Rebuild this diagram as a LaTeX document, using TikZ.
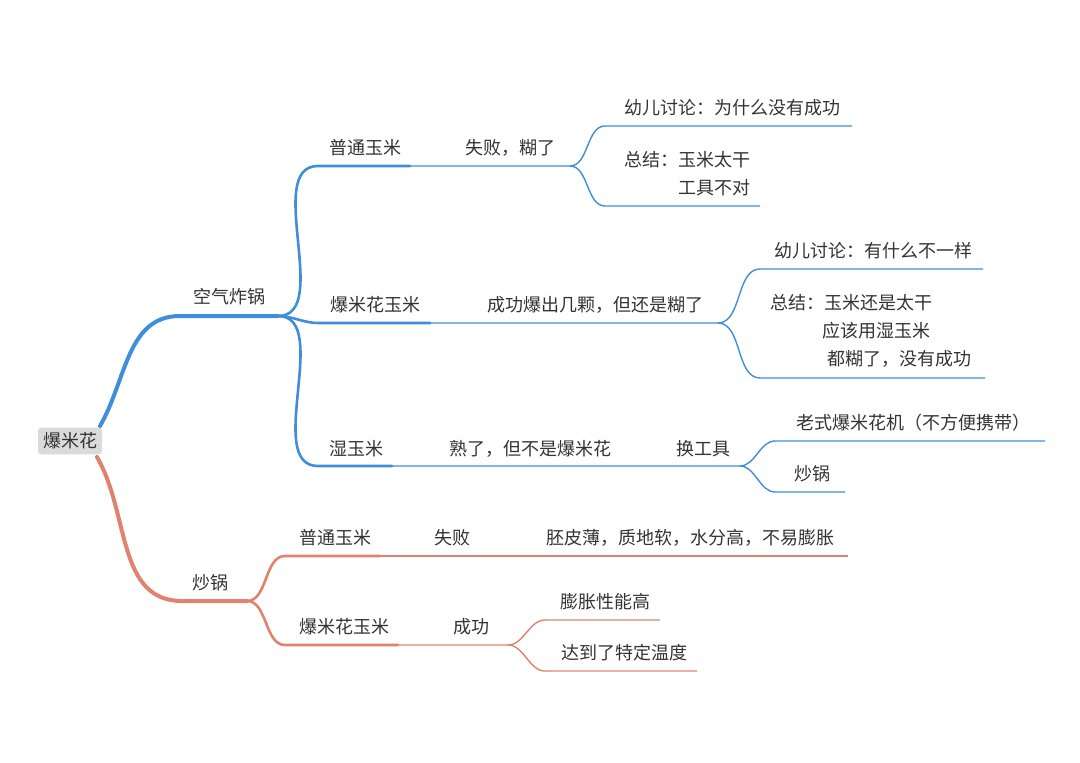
\documentclass[tikz,border=0pt]{standalone}
\usepackage{fontspec}
\setmainfont{Noto Sans CJK SC}
\begin{document}
\begin{tikzpicture}[x=1pt,y=-1pt,
  lbl/.style={font=\fontsize{18}{22}\selectfont, text=black!80, inner sep=0pt},
  bl1/.style={draw=blueA, line width=4pt, line cap=round},
  bl2/.style={draw=blueA, line width=2.6pt, line cap=round},
  bl3/.style={draw=blueA, line width=1.4pt},
  rd1/.style={draw=redA, line width=4pt, line cap=round},
  rd2/.style={draw=redA, line width=2.6pt, line cap=round},
  rd3/.style={draw=redA, line width=1.4pt},
  sc/.style={out=0,in=180,looseness=0.9}]
\definecolor{blueA}{HTML}{3F8EDC}
\definecolor{redA}{HTML}{E0826E}
\useasboundingbox (0,0) rectangle (1080,763);
\node[lbl, fill=black!14, rounded corners=3pt, inner sep=5pt] (root) at (70,441) {爆米花};
% coordinates
\coordinate (rA) at (100,426); \coordinate (rB) at (97,457);
\coordinate (k0) at (180,316); \coordinate (k1) at (278,316);
\coordinate (p0) at (318,166); \coordinate (p1) at (410,166); \coordinate (p2) at (570,166);
\coordinate (p3) at (605,126); \coordinate (p4) at (852,126);
\coordinate (p5) at (605,206); \coordinate (p6) at (760,206);
\coordinate (b0) at (318,323); \coordinate (b1) at (430,323); \coordinate (b2) at (718,323);
\coordinate (b3) at (760,269); \coordinate (b4) at (983,269);
\coordinate (b5) at (760,378); \coordinate (b6) at (985,378);
\coordinate (s0) at (318,466); \coordinate (s1) at (392,466); \coordinate (s2) at (622,466); \coordinate (s3) at (740,466);
\coordinate (s4) at (775,441); \coordinate (s5) at (1045,441);
\coordinate (s6) at (775,492); \coordinate (s7) at (845,492);
\coordinate (c0) at (182,601); \coordinate (c1) at (247,601);
\coordinate (q0) at (285,556); \coordinate (q1) at (380,556); \coordinate (q2) at (485,556); \coordinate (q3) at (848,556);
\coordinate (m0) at (285,645); \coordinate (m1) at (398,645); \coordinate (m2) at (508,645);
\coordinate (m3) at (545,620); \coordinate (m4) at (660,620);
\coordinate (m5) at (545,671); \coordinate (m6) at (697,671);
% blue
\draw[bl1] (rA) to[out=-60+120,in=180] (k0) -- (k1);
\draw[bl2] (k1) to[sc] (p0) -- (p1);
\draw[bl3] (p1) -- (p2) to[sc] (p3) -- (p4);
\draw[bl3] (p2) to[sc] (p5) -- (p6);
\draw[bl2] (k1) to[sc] (b0) -- (b1);
\draw[bl3] (b1) -- (b2) to[sc] (b3) -- (b4);
\draw[bl3] (b2) to[sc] (b5) -- (b6);
\draw[bl2] (k1) to[sc] (s0) -- (s1);
\draw[bl3] (s1) -- (s2) -- (s3) to[sc] (s4) -- (s5);
\draw[bl3] (s3) to[sc] (s6) -- (s7);
% red
\draw[rd1] (rB) to[out=-60,in=180] (c0) -- (c1);
\draw[rd2] (c1) to[sc] (q0) -- (q1);
\draw[rd3] (q1) -- (q2) -- (q3);
\draw[rd2] (c1) to[sc] (m0) -- (m1);
\draw[rd3] (m1) -- (m2) to[sc] (m3) -- (m4);
\draw[rd3] (m2) to[sc] (m5) -- (m6);
% labels
\node[lbl] (t1) at (229,297) {空气炸锅};
\node[lbl] (t2) at (365,148) {普通玉米};
\node[lbl] (t3) at (510,148) {失败，糊了};
\node[lbl] (t4) at (732,108) {幼儿讨论：为什么没有成功};
\node[lbl, anchor=east] (t5) at (751,160) {总结：玉米太干};
\node[lbl, anchor=east] (t6) at (751,188) {工具不对};
\node[lbl] (t7) at (375,305) {爆米花玉米};
\node[lbl] (t8) at (595,305) {成功爆出几颗，但还是糊了};
\node[lbl] (t9) at (873,251) {幼儿讨论：有什么不一样};
\node[lbl, anchor=west] (t10) at (770,303) {总结：玉米还是太干};
\node[lbl, anchor=west] (t11) at (822,331) {应该用湿玉米};
\node[lbl, anchor=west] (t12) at (827,359) {都糊了，没有成功};
\node[lbl] (t13) at (356,449) {湿玉米};
\node[lbl] (t14) at (530,449) {熟了，但不是爆米花};
\node[lbl] (t15) at (703,449) {换工具};
\node[lbl] (t16) at (913,423) {老式爆米花机（不方便携带）};
\node[lbl] (t17) at (812,474) {炒锅};
\node[lbl] (t18) at (210,583) {炒锅};
\node[lbl] (t19) at (335,538) {普通玉米};
\node[lbl] (t20) at (452,538) {失败};
\node[lbl] (t21) at (690,538) {胚皮薄，质地软，水分高，不易膨胀};
\node[lbl] (t22) at (344,627) {爆米花玉米};
\node[lbl] (t23) at (471,627) {成功};
\node[lbl] (t24) at (605,602) {膨胀性能高};
\node[lbl] (t25) at (624,653) {达到了特定温度};
\end{tikzpicture}
\end{document}
